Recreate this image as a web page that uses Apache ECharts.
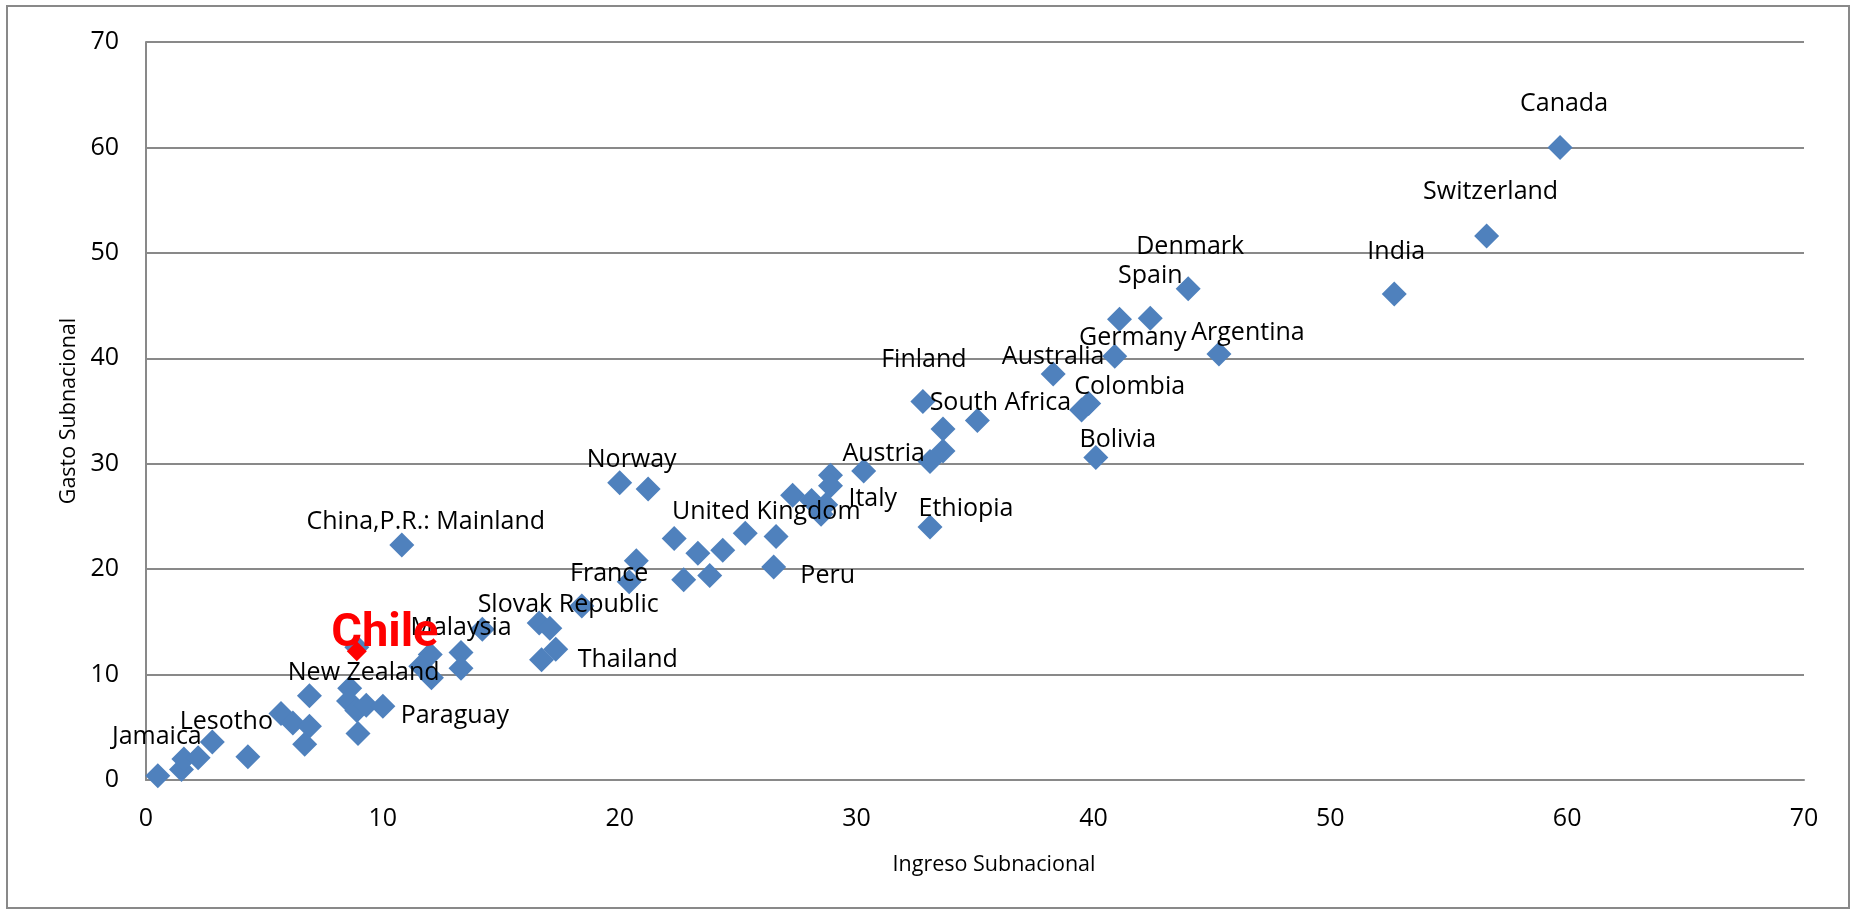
<!DOCTYPE html>
<html>
<head>
<meta charset="utf-8">
<script src="https://cdn.jsdelivr.net/npm/echarts@6/dist/echarts.min.js"></script>
<style>
html,body{margin:0;padding:0;background:#fff;}
#c{width:1855px;height:915px;}
</style>
</head>
<body>
<div id="c"></div>
<script>
// ---- data ----
const etiquetas = ['Jamaica','','','','Lesotho','','','','','','',
  'New Zealand','','','','Paraguay','','','','','','Malaysia','','',
  'Slovak Republic','','','','Thailand','China,P.R.: Mainland','Norway','','','','',
  'United Kingdom','','','France','','','Peru','','','','','Italy','','Austria',
  'Finland','','South Africa','','','Ethiopia','Australia','','Colombia','Bolivia',
  'Germany','','Spain','Denmark','Argentina','India','Switzerland','Canada'];
const ingreso = [0.5,1.5,1.6,2.2,2.8,4.3,5.7,6.2,6.9,6.9,6.7,
  8.6,8.55,8.9,9.3,10.0,8.95,8.9,12.0,11.6,12.05,13.3,13.3,14.2,
  16.6,17.05,18.4,16.7,17.3,10.8,20.0,21.2,22.3,23.3,24.35,
  25.3,26.6,20.7,20.4,22.7,23.8,26.5,27.3,28.1,28.9,28.9,28.7,28.5,30.3,
  32.8,33.65,35.1,33.65,33.1,33.1,38.3,39.5,39.8,40.1,
  40.9,41.1,42.4,44.0,45.3,52.7,56.6,59.7];
const gasto = [0.4,1.0,2.0,2.1,3.6,2.2,6.3,5.4,8.0,5.1,3.4,
  8.7,7.5,6.6,7.1,7.0,4.4,12.6,11.9,10.8,9.7,12.1,10.6,14.3,
  14.9,14.4,16.5,11.4,12.4,22.3,28.2,27.6,22.9,21.5,21.8,
  23.4,23.1,20.8,18.8,19.0,19.4,20.2,27.0,26.5,28.9,27.9,26.1,25.2,29.3,
  35.9,33.3,34.1,31.2,30.2,24.0,38.5,35.1,35.7,30.6,
  40.2,43.7,43.8,46.6,40.4,46.1,51.6,60.0];
const chileNombre = ['Chile'];
const chileIngreso = [8.9];
const chileGasto = [12.6];
const ticksX = [0,10,20,30,40,50,60,70];
const ticksY = [0,10,20,30,40,50,60,70];

// ---- label placement (style, px) ----
const labelOffset = {
  'Jamaica':[-1,-39],'Lesotho':[14,-20],'New Zealand':[14,-15],'Paraguay':[72,10],
  'Malaysia':[0,-25],'Slovak Republic':[29,-18],'Thailand':[72,11],
  'China,P.R.: Mainland':[24,-23],'Norway':[12,-23],'United Kingdom':[21,-21],
  'France':[-20,-8],'Peru':[54,9],'Italy':[47,-6],'Austria':[20,-17],
  'Finland':[1,-42],'South Africa':[23,-18],'Ethiopia':[36,-18],'Australia':[0,-17],
  'Colombia':[41,-17],'Bolivia':[22,-18],'Germany':[18,-18],'Spain':[0,-42],
  'Denmark':[2,-42],'Argentina':[29,-21],'India':[2,-42],'Switzerland':[4,-44],
  'Canada':[4,-44]
};

const FONT = 'Open Sans';
const puntos = ingreso.map((x,i)=>{
  const n = etiquetas[i];
  const item = {name:n, value:[x, gasto[i]]};
  if (n) {
    item.label = {show:true, position:'inside', offset:labelOffset[n]||[0,-40],
      formatter:'{b}', color:'#000', fontFamily:FONT, fontSize:25};
  }
  return item;
});
const chilePts = chileIngreso.map((x,i)=>({name:chileNombre[i], value:[x, chileGasto[i]]}));

const chart = echarts.init(document.getElementById('c'), null, {renderer:'canvas'});
const axisCommon = {
  type:'value', min:0, max:70, interval:10,
  axisLine:{show:true, lineStyle:{color:'#898989', width:2}},
  axisTick:{show:false},
  splitLine:{show:false},
  nameLocation:'middle',
  nameTextStyle:{color:'#000', fontFamily:FONT, fontSize:21.5},
  axisLabel:{color:'#000', fontFamily:FONT, fontSize:25}
};
chart.setOption({
  animation:false,
  backgroundColor:'#fff',
  graphic:[{type:'rect', shape:{x:7,y:6,width:1842,height:902},
    style:{fill:'none', stroke:'#898989', lineWidth:2}, silent:true, z:-1}],
  grid:{left:146, top:42, width:1658, height:738, containLabel:false},
  xAxis:Object.assign({}, axisCommon, {
    name:'Ingreso Subnacional', nameGap:74,
    nameTextStyle:Object.assign({}, axisCommon.nameTextStyle, {padding:[0,0,0,38]}),
    axisLabel:Object.assign({}, axisCommon.axisLabel, {margin:26,
      formatter:v=>ticksX.includes(v)?String(v):''}),
    splitLine:{show:false}
  }),
  yAxis:Object.assign({}, axisCommon, {
    name:'Gasto Subnacional', nameGap:66, nameRotate:90,
    axisLabel:Object.assign({}, axisCommon.axisLabel, {margin:27,
      formatter:v=>ticksY.includes(v)?String(v):''}),
    splitLine:{show:true, lineStyle:{color:'#898989', width:2}}
  }),
  series:[
    {type:'scatter', symbol:'diamond', symbolSize:25,
     itemStyle:{color:'#4F81BD', opacity:1}, data:puntos, z:2},
    {type:'scatter', symbol:'diamond', symbolSize:20, symbolOffset:[0,4],
     itemStyle:{color:'#FF0000', opacity:1}, data:chilePts, z:3,
     label:{show:true, position:'inside', offset:[28,-17], formatter:'{b}',
       color:'#FF0000', fontFamily:'Roboto', fontWeight:'bold', fontSize:47}}
  ]
});
</script>
</body>
</html>
